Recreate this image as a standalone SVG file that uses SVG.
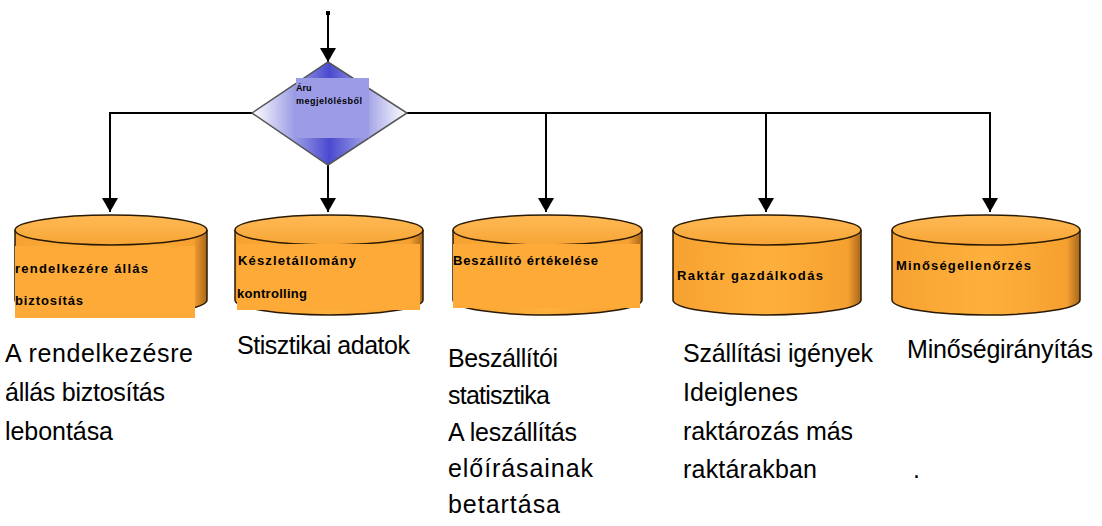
<svg xmlns="http://www.w3.org/2000/svg" width="1102" height="526" viewBox="0 0 1102 526">
<defs>
  <linearGradient id="dg" x1="0" y1="0" x2="1" y2="0">
    <stop offset="0" stop-color="#ffffff"/>
    <stop offset="0.5" stop-color="#4a4ad0"/>
    <stop offset="1" stop-color="#ffffff"/>
  </linearGradient>
  <linearGradient id="body" x1="0" y1="0" x2="1" y2="0">
    <stop offset="0" stop-color="#f6a232"/>
    <stop offset="0.5" stop-color="#ffb03c"/>
    <stop offset="0.93" stop-color="#f5a030"/>
    <stop offset="1" stop-color="#a8661a"/>
  </linearGradient>
  <linearGradient id="top" x1="0" y1="0" x2="0" y2="1">
    <stop offset="0" stop-color="#ffba55"/>
    <stop offset="1" stop-color="#f7a535"/>
  </linearGradient>
  <marker id="ah" viewBox="0 0 14 16" refX="14" refY="8" markerWidth="14" markerHeight="16" markerUnits="userSpaceOnUse" orient="auto">
    <path d="M0,0 L14,8 L0,16 Z" fill="#000"/>
  </marker>
  <style>
    .ln{fill:none;stroke:#000;stroke-width:2}
    .cyl{stroke:#2a1a05;stroke-width:1.5}
    .ov{fill:#fdaa38}
    .sm{font-family:"Liberation Sans",Arial,sans-serif;font-weight:bold;font-size:13px;fill:#000}
    .dt{font-family:"Liberation Sans",Arial,sans-serif;font-weight:bold;font-size:9px;fill:#000}
    .big{font-family:"Liberation Sans",Arial,sans-serif;font-size:25px;fill:#000}
  </style>
</defs>

<g id="connectors">
  <rect x="326" y="11" width="4" height="4" fill="#000"/>
  <line class="ln" x1="328" y1="13" x2="328" y2="62" marker-end="url(#ah)"/>
  <line class="ln" x1="252" y1="113" x2="110" y2="113"/>
  <line class="ln" x1="110" y1="112" x2="110" y2="212" marker-end="url(#ah)"/>
  <line class="ln" x1="328" y1="165" x2="328" y2="212" marker-end="url(#ah)"/>
  <line class="ln" x1="407" y1="113" x2="991" y2="113"/>
  <line class="ln" x1="546" y1="112" x2="546" y2="212" marker-end="url(#ah)"/>
  <line class="ln" x1="766" y1="112" x2="766" y2="212" marker-end="url(#ah)"/>
  <line class="ln" x1="990" y1="112" x2="990" y2="212" marker-end="url(#ah)"/>
</g>

<g id="decision">
  <polygon points="252,113 328,62 407,113 328,165" fill="url(#dg)" stroke="#555" stroke-width="1.5"/>
  <rect x="296" y="78" width="73" height="60" fill="#9c9ce6"/>
  <text class="dt" x="296" y="91">Áru</text>
  <text class="dt" x="296" y="104" textLength="66">megjelölésből</text>
</g>

<g id="cyl1">
  <path class="cyl" d="M15,230 L15,300 A96,15 0 0 0 207,300 L207,230" fill="url(#body)"/>
  <ellipse class="cyl" cx="111" cy="230" rx="96" ry="15" fill="url(#top)"/>
  <rect class="ov" x="15" y="246" width="180" height="72"/>
  <text class="sm" x="15" y="273" textLength="133">rendelkezére állás</text>
  <text class="sm" x="15" y="305" textLength="68">biztosítás</text>
</g>

<g id="cyl2">
  <path class="cyl" d="M235,230 L235,300 A94,15 0 0 0 423,300 L423,230" fill="url(#body)"/>
  <ellipse class="cyl" cx="329" cy="230" rx="94" ry="15" fill="url(#top)"/>
  <rect class="ov" x="237" y="244" width="183" height="66"/>
  <text class="sm" x="238" y="265" textLength="118">Készletállomány</text>
  <text class="sm" x="237" y="298" textLength="70">kontrolling</text>
</g>

<g id="cyl3">
  <path class="cyl" d="M453,230 L453,300 A94.5,15 0 0 0 642,300 L642,230" fill="url(#body)"/>
  <ellipse class="cyl" cx="547.5" cy="230" rx="94.5" ry="15" fill="url(#top)"/>
  <rect class="ov" x="453" y="244" width="187" height="64"/>
  <text class="sm" x="453" y="265" textLength="145">Beszállító értékelése</text>
</g>

<g id="cyl4">
  <path class="cyl" d="M673,230 L673,300 A94,15 0 0 0 861,300 L861,230" fill="url(#body)"/>
  <ellipse class="cyl" cx="767" cy="230" rx="94" ry="15" fill="url(#top)"/>
  <text class="sm" x="677" y="280" textLength="146">Raktár gazdálkodás</text>
</g>

<g id="cyl5">
  <path class="cyl" d="M892,230 L892,300 A94,15 0 0 0 1080,300 L1080,230" fill="url(#body)"/>
  <ellipse class="cyl" cx="986" cy="230" rx="94" ry="15" fill="url(#top)"/>
  <text class="sm" x="896" y="270" textLength="135">Minőségellenőrzés</text>
</g>

<g id="notes">
  <text class="big" x="5" y="362" textLength="188">A rendelkezésre</text>
  <text class="big" x="5" y="401" textLength="160">állás biztosítás</text>
  <text class="big" x="5" y="440" textLength="108">lebontása</text>

  <text class="big" x="237" y="354" textLength="173">Stisztikai adatok</text>

  <text class="big" x="448" y="367" textLength="110">Beszállítói</text>
  <text class="big" x="448" y="404" textLength="102">statisztika</text>
  <text class="big" x="448" y="441" textLength="129">A leszállítás</text>
  <text class="big" x="448" y="477" textLength="145">előírásainak</text>
  <text class="big" x="448" y="513" textLength="112">betartása</text>

  <text class="big" x="683" y="362" textLength="190">Szállítási igények</text>
  <text class="big" x="683" y="401" textLength="115">Ideiglenes</text>
  <text class="big" x="683" y="440" textLength="170">raktározás más</text>
  <text class="big" x="683" y="478" textLength="134">raktárakban</text>

  <text class="big" x="907" y="358" textLength="186">Minőségirányítás</text>
  <text class="big" x="913" y="478">.</text>
</g>
</svg>
